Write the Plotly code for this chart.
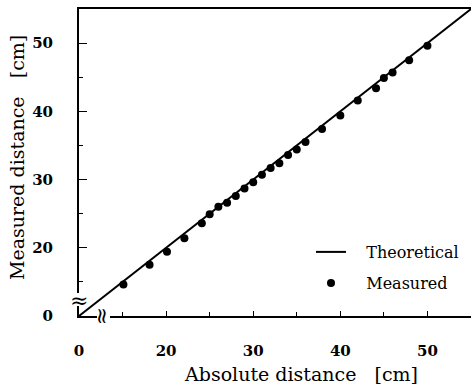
import plotly.graph_objects as go

# Data
measured_x = [15.1, 18.1, 20.1, 22.1, 24.1, 25.0, 26.0, 27.0, 28.0, 29.0, 30.0, 31.0,
              32.0, 33.0, 34.0, 35.0, 36.0, 37.9, 40.0, 42.0, 44.1, 45.0, 46.0, 47.9, 50.0]
measured_y = [14.6, 17.5, 19.4, 21.4, 23.6, 24.9, 26.0, 26.6, 27.6, 28.7, 29.6, 30.7,
              31.7, 32.4, 33.6, 34.4, 35.5, 37.4, 39.4, 41.6, 43.4, 44.9, 45.7, 47.5, 49.6]
theory_x = [0, 55]
theory_y = [0, 55]
tick_vals = [0, 20, 30, 40, 50]
minor_vals = [15, 25, 35, 45]
BREAK = 10  # axis is broken: values below this are drawn at the break position


def brk(v):
    return v if v >= BREAK else BREAK


tick_pos = [brk(v) for v in tick_vals]
tick_text = [str(v) for v in tick_vals]

serif = "DejaVu Serif"
W, H = 471, 388
L, T, B = 79, 9, 72
PW, PH = W - L, H - T - B

fig = go.Figure()
fig.add_trace(go.Scatter(
    x=[brk(v) for v in theory_x], y=[brk(v) for v in theory_y],
    mode="lines", line=dict(color="black", width=2),
    name="&nbsp;&nbsp;&nbsp;Theoretical", legend="legend"))
fig.add_trace(go.Scatter(
    x=measured_x, y=measured_y, mode="markers",
    marker=dict(color="black", size=8),
    name="&nbsp;&nbsp;&nbsp;Measured", legend="legend2"))

axis_common = dict(
    range=[BREAK, 55], showgrid=False, zeroline=False, showline=True,
    linecolor="black", linewidth=2, ticks="inside", tickcolor="black",
    tickvals=tick_pos, ticktext=tick_text,
    tickfont=dict(family=serif, size=15, color="black", weight="bold"),
    minor=dict(tickvals=minor_vals, ticks="inside", ticklen=4, tickcolor="black", tickwidth=1),
)

fig.update_xaxes(**axis_common, mirror=True, ticklen=5, tickwidth=1, ticklabelstandoff=20)
fig.update_yaxes(**axis_common, mirror=False, ticklen=8, tickwidth=1, ticklabelstandoff=21)

# Axis titles
fig.add_annotation(text="Absolute distance &nbsp;&nbsp;[cm]", xref="paper", yref="paper",
                   x=(301 - L) / PW, y=-(374 - 316) / PH, showarrow=False,
                   font=dict(family=serif, size=19, color="black"), xanchor="center", yanchor="middle")
fig.add_annotation(text="Measured distance &nbsp;&nbsp;[cm]", xref="paper", yref="paper",
                   x=-(L - 17) / PW, y=(316 - 158) / PH, showarrow=False, textangle=-90,
                   font=dict(family=serif, size=19, color="black"), xanchor="center", yanchor="middle")

# Axis break: white gaps in the axis lines plus the break symbols
fig.add_shape(type="rect", xref="paper", yref="paper", layer="above",
              x0=-3 / PW, x1=3 / PW, y0=(316 - 306) / PH, y1=(316 - 293) / PH,
              fillcolor="white", line=dict(width=0))
fig.add_shape(type="rect", xref="paper", yref="paper", layer="above",
              x0=(97 - L) / PW, x1=(110 - L) / PW, y0=-3 / PH, y1=3 / PH,
              fillcolor="white", line=dict(width=0))
fig.add_annotation(text="≈", xref="paper", yref="paper", x=0, y=(316 - 300) / PH,
                   showarrow=False, borderpad=0,
                   font=dict(family=serif, size=22, color="black"), xanchor="center", yanchor="middle")
fig.add_annotation(text="≈", xref="paper", yref="paper", x=(103 - L) / PW, y=0,
                   showarrow=False, borderpad=0, textangle=90,
                   font=dict(family=serif, size=22, color="black"), xanchor="center", yanchor="middle")

leg_common = dict(xanchor="left", yanchor="middle", bgcolor="rgba(0,0,0,0)",
                  font=dict(family=serif, size=16, color="black"), itemwidth=30)

fig.update_layout(
    width=W, height=H,
    margin=dict(l=L, r=0, t=T, b=B),
    plot_bgcolor="white", paper_bgcolor="white",
    showlegend=True,
    legend=dict(x=(311 - L) / PW, y=(316 - 252) / PH, **leg_common),
    legend2=dict(x=(311 - L) / PW, y=(316 - 283) / PH, **leg_common),
)

fig.write_html("out.html")
